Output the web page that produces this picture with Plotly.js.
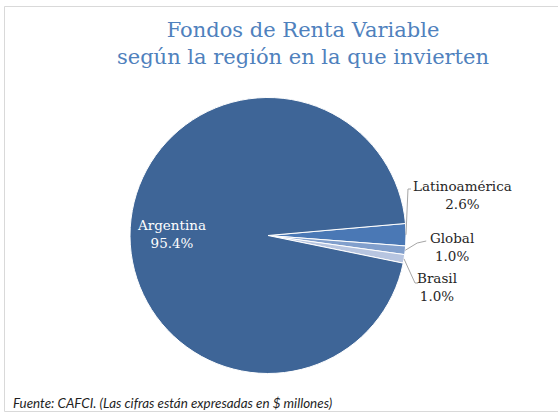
<!DOCTYPE html>
<html>
<head>
<meta charset="utf-8">
<script src="https://cdn.plot.ly/plotly-3.0.1.min.js"></script>
<style>html,body{margin:0;padding:0;background:#fff;}#chart{width:558px;height:413px;}</style>
</head>
<body>
<div id="chart"></div>
<script>
// Data
const labels = ["Latinoamérica", "Global", "Brasil", "Argentina"];
const values = [2.6, 1.0, 1.0, 95.4];
const colors = ["#4A78B5", "#819FCC", "#B7C5E0", "#3E6597"];
const titleText = "Fondos de Renta Variable<br>según la región en la que invierten";
const sourceText = "Fuente: CAFCI. (Las cifras están expresadas en $ millones)";

// Layout geometry (pixels)
const W = 558, H = 413;
const L = 130, R = 152, T = 97, B = 39;
const PW = W - L - R, PH = H - T - B;
const cx = L + PW / 2, cy = T + PH / 2, rad = Math.min(PW, PH) / 2;
const rotation = 85;
const xp = px => (px - L) / PW;
const yp = py => 1 - (py - T) / PH;

const serif = "DejaVu Serif, serif";
const total = values.reduce((a, b) => a + b, 0);

// slice mid angles (degrees clockwise from 12 o'clock)
let acc = rotation;
const mids = values.map(v => { const a = acc + v / total * 180; acc += v / total * 360; return a; });
const edge = i => {
  const t = mids[i] * Math.PI / 180;
  return [cx + rad * Math.sin(t), cy - rad * Math.cos(t)];
};
const pct = v => (v / total * 100).toFixed(1) + "%";

// label placement (pixels) for outside labels: text centre and leader path
const labelPos = {
  0: {tx: 462, ty: 195, path: (p) => [[p[0], p[1]], [p[0] + 2, 189], [p[0] + 5, 189]]},
  1: {tx: 452, ty: 247, path: (p) => [[p[0], p[1]], [p[0] + 12, 243], [p[0] + 21, 241]]},
  2: {tx: 437, ty: 287, path: (p) => [[p[0], p[1]], [p[0] + 11, 283], [p[0] + 14, 283]]}
};

const annotations = [];
const shapes = [];
labels.forEach((lab, i) => {
  if (i === 3) {
    annotations.push({
      xref: "paper", yref: "paper", x: xp(171), y: yp(234),
      xanchor: "center", yanchor: "middle",
      text: lab + "<br>" + pct(values[i]), showarrow: false,
      font: {family: serif, size: 13.5, color: "#FFFFFF"}, align: "center"
    });
    return;
  }
  const lp = labelPos[i];
  const p = edge(i);
  annotations.push({
    xref: "paper", yref: "paper", x: xp(lp.tx), y: yp(lp.ty),
    xanchor: "center", yanchor: "middle",
    text: lab + "<br>" + pct(values[i]), showarrow: false,
    font: {family: serif, size: 13.5, color: "#262626"}, align: "center"
  });
  const pts = lp.path(p);
  const d = pts.map((q, k) => (k ? "L" : "M") + xp(q[0]) + "," + yp(q[1])).join(" ");
  shapes.push({type: "path", xref: "paper", yref: "paper", path: d,
    line: {color: "#A6A6A6", width: 1}});
});

annotations.push({
  xref: "paper", yref: "paper", x: xp(11), y: yp(403), xanchor: "left", yanchor: "middle",
  text: "<i>" + sourceText + "</i>", showarrow: false,
  font: {family: "Lato, Liberation Sans, sans-serif", size: 13.4, color: "#1F1F1F"}
});

// outer frame
shapes.push({type: "rect", xref: "paper", yref: "paper",
  x0: xp(4.5), x1: xp(570), y0: yp(411.5), y1: yp(6.5),
  line: {color: "#D9D9D9", width: 1}, fillcolor: "rgba(0,0,0,0)", layer: "below"});

const data = [{
  type: "pie",
  labels: labels,
  values: values,
  sort: false,
  direction: "clockwise",
  rotation: rotation,
  textinfo: "none",
  hoverinfo: "label+percent",
  marker: {colors: colors, line: {color: "#FFFFFF", width: 1}},
  showlegend: false
}];

const layout = {
  width: W, height: H,
  margin: {l: L, r: R, t: T, b: B},
  paper_bgcolor: "#FFFFFF",
  title: {
    text: titleText,
    x: 303 / W, xanchor: "center",
    y: 1 - 37 / H, yanchor: "top", yref: "container",
    font: {family: serif, size: 21, color: "#4F81BD"}
  },
  annotations: annotations,
  shapes: shapes,
  showlegend: false
};

Plotly.newPlot("chart", data, layout, {displayModeBar: false, staticPlot: true});
</script>
</body>
</html>
